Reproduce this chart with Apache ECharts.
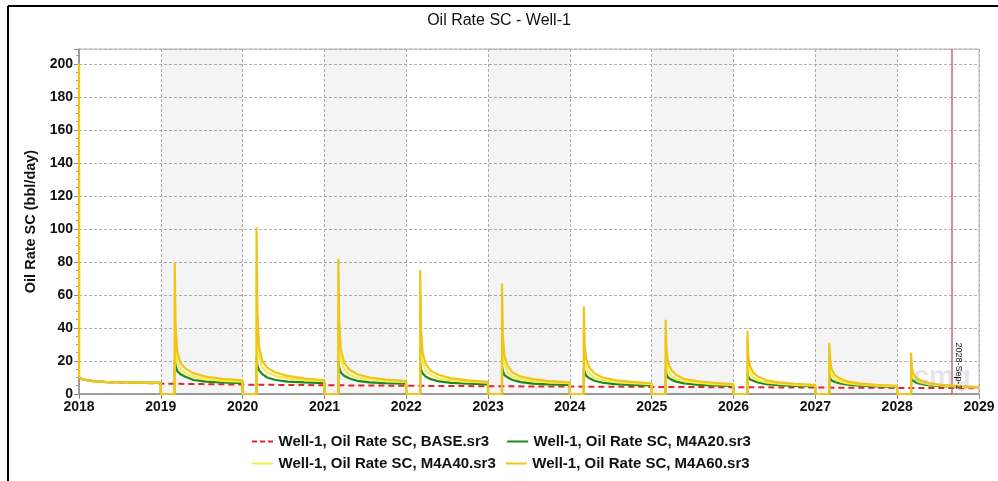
<!DOCTYPE html>
<html>
<head>
<meta charset="utf-8">
<script src="https://cdn.jsdelivr.net/npm/echarts@6/dist/echarts.min.js"></script>
<style>
  html, body { margin: 0; padding: 0; background: #fff; }
  #chart { width: 998px; height: 481px; }
</style>
</head>
<body>
<div id="chart"></div>
<script>
// Oil rate history for Well-1: yearly stimulation cycles per scenario
const seriesNames = [
  'Well-1, Oil Rate SC, BASE.sr3',
  'Well-1, Oil Rate SC, M4A20.sr3',
  'Well-1, Oil Rate SC, M4A40.sr3',
  'Well-1, Oil Rate SC, M4A60.sr3'
];
const yAxisTicks = [0, 20, 40, 60, 80, 100, 120, 140, 160, 180, 200];
const xAxisYears = [2018, 2019, 2020, 2021, 2022, 2023, 2024, 2025, 2026, 2027, 2028, 2029];
const shadedYears = [2019, 2021, 2023, 2025, 2027];
const markerDate = 2028.667;
const markerLabel = '2028-Sep-1';

// shared primary production before the first cycle (years, bbl/day)
const preTimes = [2018, 2018.002, 2018.03, 2018.1, 2018.2, 2018.35, 2018.6, 2018.998];
const preYellow = [200, 10, 9.2, 8.3, 7.6, 7.2, 7.0, 6.8];
const preGreen = [10, 10, 9.2, 8.3, 7.6, 7.2, 7.0, 6.8];

// base case, no stimulation
const baseTimes = [2018, 2018.03, 2018.1, 2018.2, 2018.35, 2018.6, 2019, 2019.5, 2020, 2021, 2022, 2023, 2024, 2025, 2026, 2027, 2028, 2029];
const baseValues = [10, 9.2, 8.3, 7.6, 7.2, 7.0, 6.3, 6.0, 5.7, 5.3, 5.0, 4.7, 4.5, 4.3, 4.1, 3.9, 3.7, 3.5];

// each cycle: shut-in from Jan 1, then restart and decline (offsets in years)
const cycleYears = [2019, 2020, 2021, 2022, 2023, 2024, 2025, 2026, 2027, 2028];
const restartOffset = 0.17;
const cycleOffsets = [0.17, 0.18, 0.2, 0.24, 0.3, 0.4, 0.55, 0.75, 0.998];

const m4a20Cycles = [
  [21, 17, 14, 12, 10.5, 8.5, 7.5, 7.0, 6.6],
  [22, 17.5, 14.5, 12, 10, 8.5, 7.5, 7.0, 6.6],
  [20, 16, 13, 11, 9.5, 8.0, 7.0, 6.5, 6.2],
  [19, 15, 12.5, 10.5, 9.0, 7.6, 6.7, 6.2, 5.8],
  [17, 14, 11.5, 10, 8.5, 7.2, 6.3, 5.8, 5.5],
  [16, 13, 11, 9.5, 8.0, 6.8, 6.0, 5.5, 5.2],
  [15, 12, 10, 8.7, 7.5, 6.4, 5.6, 5.2, 4.9],
  [13, 10.5, 9.0, 8.0, 7.0, 6.0, 5.3, 4.9, 4.6],
  [11.5, 9.5, 8.2, 7.3, 6.4, 5.6, 5.0, 4.6, 4.3],
  [10, 8.5, 7.5, 6.7, 5.9, 5.2, 4.7, 4.4, 4.2]
];
const m4a40Cycles = [
  [64, 32, 20, 15, 12.5, 10.5, 9.0, 8.0, 7.5],
  [80, 38, 23, 16, 13, 11, 9.5, 8.5, 7.8],
  [65, 34, 21, 15, 12, 10, 8.8, 8.0, 7.3],
  [60, 31, 19.5, 14, 11.5, 9.5, 8.3, 7.5, 6.9],
  [53, 28, 18, 13, 10.5, 9.0, 7.8, 7.0, 6.5],
  [42, 24, 16, 12, 10, 8.5, 7.4, 6.6, 6.0],
  [36, 21, 14.5, 11, 9.0, 7.7, 6.8, 6.0, 5.5],
  [30, 18, 13, 10, 8.2, 7.0, 6.2, 5.5, 5.0],
  [25, 15.5, 11.5, 9.0, 7.5, 6.4, 5.6, 5.0, 4.6],
  [20, 13, 10, 8.0, 6.8, 5.8, 5.0, 4.4, 3.9]
];
const m4a60Cycles = [
  [80, 42, 26, 19, 15.5, 12.5, 10.5, 9.2, 8.2],
  [101, 50, 29, 20, 16, 13, 11, 9.5, 8.3],
  [82, 44, 27, 19, 15, 12, 10, 8.8, 7.8],
  [75, 40, 25, 18, 14, 11.5, 9.5, 8.3, 7.4],
  [67, 36, 23, 17, 13, 10.5, 9.0, 7.8, 7.0],
  [53, 30, 21, 16, 12.5, 10, 8.5, 7.3, 6.5],
  [45, 27, 19, 14.5, 11.5, 9.0, 7.8, 6.8, 6.0],
  [38, 23, 17, 13, 10.5, 8.3, 7.0, 6.2, 5.5],
  [31, 20, 15, 11.5, 9.3, 7.5, 6.3, 5.6, 5.0],
  [25, 16, 12, 9.5, 8.0, 6.5, 5.5, 4.8, 4.2]
];

// assemble [year, rate] pairs: pre-cycle segment then shut-in + restart for each year
function buildCycles(preValues, cycles) {
  const pts = preTimes.map((t, i) => [t, preValues[i]]);
  cycleYears.forEach((y, k) => {
    pts.push([y, 0]);
    pts.push([y + restartOffset, 0]);
    cycleOffsets.forEach((o, j) => pts.push([y + o, cycles[k][j]]));
  });
  return pts;
}

const baseData = baseTimes.map((t, i) => [t, baseValues[i]]);
const m4a20Data = buildCycles(preGreen, m4a20Cycles);
const m4a40Data = buildCycles(preYellow, m4a40Cycles);
const m4a60Data = buildCycles(preYellow, m4a60Cycles);

const FONT = '"Liberation Sans", Arial, sans-serif';
const chart = echarts.init(document.getElementById('chart'));

const legendText = { fontFamily: FONT, fontWeight: 'bold', fontSize: 15, color: '#111' };
// legend swatches: short dashes for the base case, solid bar for the rest
const dashIcon = 'path://M0,0h5v2h-5z M8,0h5v2h-5z M16,0h5v2h-5z';
const solidIcon = 'path://M0,0h21v2h-21z';

chart.setOption({
  animation: false,
  backgroundColor: '#fff',
  title: {
    text: 'Oil Rate SC - Well-1',
    left: 'center',
    top: 8,
    textStyle: { fontFamily: FONT, fontWeight: 'normal', fontSize: 16, color: '#111' }
  },
  legend: [
    {
      data: [
        { name: seriesNames[0], icon: dashIcon },
        { name: seriesNames[1], icon: solidIcon }
      ],
      left: 247, top: 429,
      itemWidth: 22, itemHeight: 2, itemGap: 18,
      textStyle: legendText
    },
    {
      data: [
        { name: seriesNames[2], icon: solidIcon },
        { name: seriesNames[3], icon: solidIcon }
      ],
      left: 247, top: 451,
      itemWidth: 22, itemHeight: 2, itemGap: 10,
      textStyle: legendText
    }
  ],
  grid: { left: 79, right: 19, top: 49, bottom: 87, show: true, borderColor: '#b4b4b4', borderWidth: 1 },
  xAxis: {
    type: 'value',
    min: xAxisYears[0],
    max: xAxisYears[xAxisYears.length - 1],
    interval: 1,
    axisLine: { lineStyle: { color: '#8c8c8c', width: 1.5 } },
    axisTick: { show: true, length: 5, lineStyle: { color: '#8c8c8c' } },
    axisLabel: {
      formatter: v => String(v),
      fontFamily: FONT, fontWeight: 'bold', fontSize: 14, color: '#111', margin: 6
    },
    splitLine: { show: true, lineStyle: { type: [3, 2], color: '#b0b0b0', width: 1 } }
  },
  yAxis: {
    type: 'value',
    min: 0,
    max: 209,
    interval: 20,
    name: 'Oil Rate SC (bbl/day)',
    nameLocation: 'middle',
    nameGap: 40,
    nameTextStyle: { fontFamily: FONT, fontWeight: 'bold', fontSize: 14.5, color: '#111' },
    axisLine: { show: true, lineStyle: { color: '#8c8c8c', width: 1.5 } },
    axisTick: { show: true, length: 5, lineStyle: { color: '#8c8c8c' } },
    minorTick: { show: true, splitNumber: 4, length: 3, lineStyle: { color: '#9a9a9a' } },
    axisLabel: {
      formatter: v => (yAxisTicks.indexOf(v) >= 0 ? String(v) : ''),
      fontFamily: FONT, fontWeight: 'bold', fontSize: 14, color: '#111', margin: 6
    },
    splitLine: { show: true, lineStyle: { type: [3, 2], color: '#b0b0b0', width: 1 } }
  },
  series: [
    {
      name: seriesNames[0],
      type: 'line',
      data: baseData,
      symbol: 'none',
      z: 2,
      lineStyle: { color: '#e0262a', width: 2, type: [6, 4] },
      itemStyle: { color: '#e0262a' },
      markArea: {
        silent: true,
        itemStyle: { color: 'rgba(0,0,0,0.045)' },
        data: shadedYears.map(y => [{ xAxis: y }, { xAxis: y + 1 }])
      },
      markLine: {
        silent: true,
        symbol: 'none',
        label: { show: false },
        lineStyle: { color: '#c8647a', width: 1.5, type: 'solid' },
        data: [{ xAxis: markerDate }]
      }
    },
    {
      name: seriesNames[1],
      type: 'line',
      data: m4a20Data,
      symbol: 'none',
      z: 3,
      lineStyle: { color: '#1b8a1b', width: 2.2 },
      itemStyle: { color: '#1b8a1b' }
    },
    {
      name: seriesNames[2],
      type: 'line',
      data: m4a40Data,
      symbol: 'none',
      z: 4,
      lineStyle: { color: '#f7ec45', width: 2.2 },
      itemStyle: { color: '#f7ec45' }
    },
    {
      name: seriesNames[3],
      type: 'line',
      data: m4a60Data,
      symbol: 'none',
      z: 5,
      lineStyle: { color: '#f0c419', width: 2.2 },
      itemStyle: { color: '#f0c419' }
    }
  ]
});

// frame, marker date label and vendor watermark placed from axis coordinates
const markPt = chart.convertToPixel({ gridIndex: 0 }, [markerDate, 17]);
const wmPt = chart.convertToPixel({ gridIndex: 0 }, [2028.55, 10]);
chart.setOption({
  graphic: [
    { type: 'line', shape: { x1: 8, y1: 6, x2: 998, y2: 6 }, style: { stroke: '#000', lineWidth: 2 }, z: 100 },
    { type: 'line', shape: { x1: 8, y1: 6, x2: 8, y2: 481 }, style: { stroke: '#000', lineWidth: 2 }, z: 100 },
    {
      type: 'text',
      x: wmPt[0], y: wmPt[1],
      style: {
        text: 'cmg', fontFamily: FONT, fontSize: 28, fontWeight: 'bold',
        fill: 'rgba(160,170,185,0.3)', align: 'center', verticalAlign: 'middle'
      },
      z: 50
    },
    {
      type: 'text',
      x: markPt[0] + 7, y: markPt[1],
      rotation: -Math.PI / 2,
      style: {
        text: markerLabel, fontFamily: FONT, fontSize: 9, fill: '#111',
        align: 'center', verticalAlign: 'middle'
      },
      z: 60
    }
  ]
});
</script>
</body>
</html>
